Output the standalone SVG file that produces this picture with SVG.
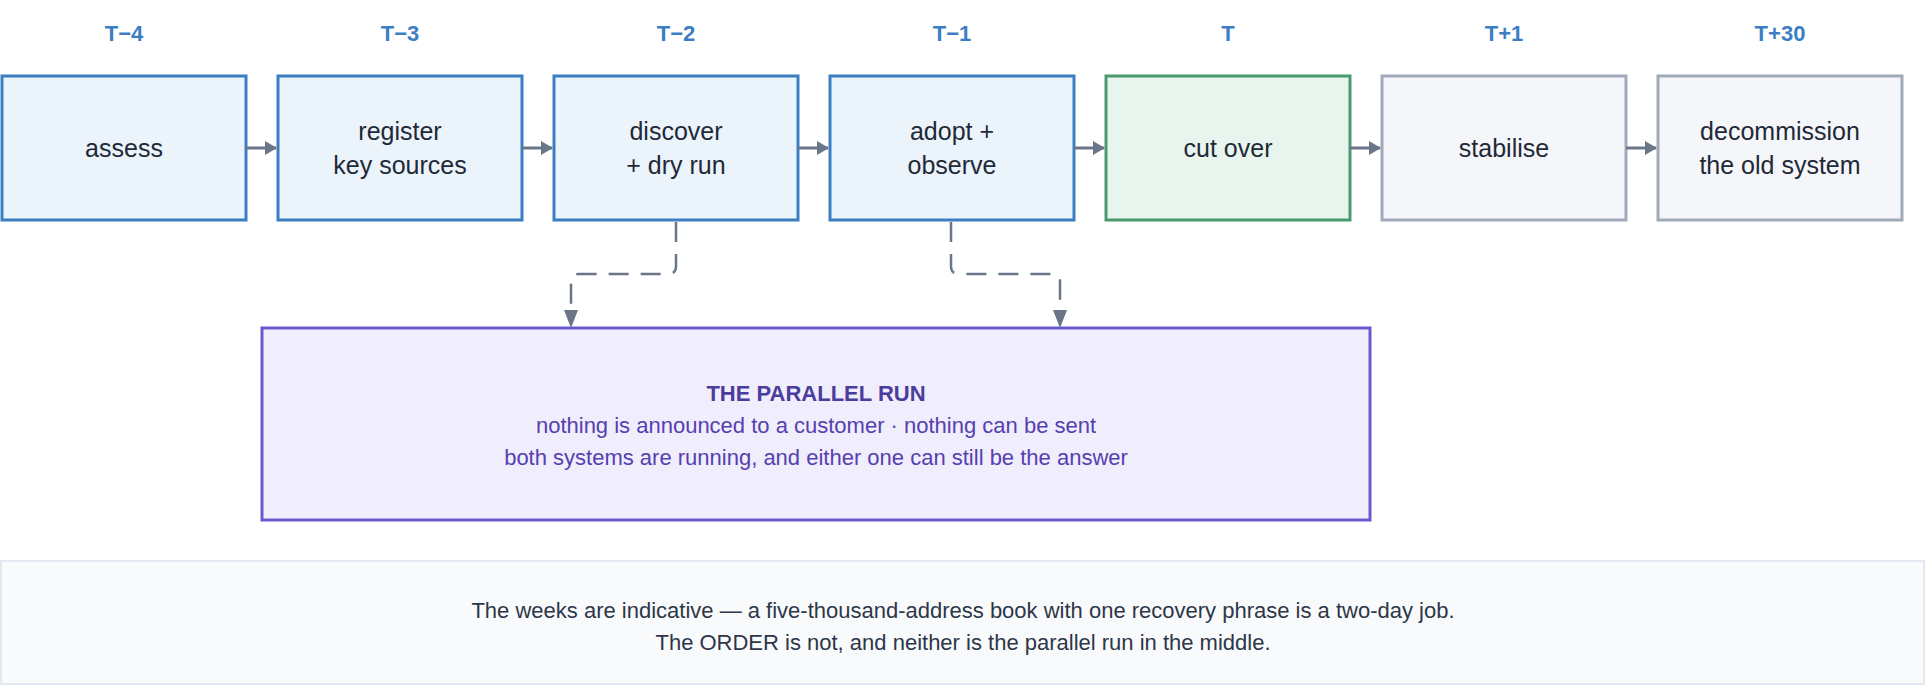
<svg xmlns="http://www.w3.org/2000/svg" width="1926" height="688" viewBox="0 0 1926 688">
<style>
text{font-family:"Liberation Sans",Arial,sans-serif;text-anchor:middle}
.t{font-size:22px;font-weight:bold;fill:#3b7ec4}
.n{font-size:25px;fill:#1f2937}
.blue{fill:#ebf3fb;stroke:#3b7ec4;stroke-width:3}
.green{fill:#e8f5ef;stroke:#4a9a6e;stroke-width:3}
.grey{fill:#f4f6fa;stroke:#a0aabb;stroke-width:3}
.a{stroke:#6b7588;stroke-width:3;fill:none}
.d{stroke:#6b7588;stroke-width:2.5;fill:none;stroke-dasharray:20 12}
.p{font-size:22px;fill:#5540b0}
.f{font-size:22px;fill:#2d3748}
</style>
<defs><marker id="ah" markerWidth="12" markerHeight="14" refX="11" refY="7" orient="auto" markerUnits="userSpaceOnUse"><path d="M0,0L12,7L0,14z" fill="#6b7588"/></marker></defs>
<g id="labels">
<text class="t" x="124" y="41">T−4</text><text class="t" x="400" y="41">T−3</text><text class="t" x="676" y="41">T−2</text><text class="t" x="952" y="41">T−1</text><text class="t" x="1228" y="41">T</text><text class="t" x="1504" y="41">T+1</text><text class="t" x="1780" y="41">T+30</text>
</g>
<g id="n1"><rect class="blue" x="2" y="76" width="244" height="144"/><text class="n" x="124" y="157">assess</text></g>
<g id="n2"><rect class="blue" x="278" y="76" width="244" height="144"/><text class="n" x="400" y="140">register</text><text class="n" x="400" y="174">key sources</text></g>
<g id="n3"><rect class="blue" x="554" y="76" width="244" height="144"/><text class="n" x="676" y="140">discover</text><text class="n" x="676" y="174">+ dry run</text></g>
<g id="n4"><rect class="blue" x="830" y="76" width="244" height="144"/><text class="n" x="952" y="140">adopt +</text><text class="n" x="952" y="174">observe</text></g>
<g id="n5"><rect class="green" x="1106" y="76" width="244" height="144"/><text class="n" x="1228" y="157">cut over</text></g>
<g id="n6"><rect class="grey" x="1382" y="76" width="244" height="144"/><text class="n" x="1504" y="157">stabilise</text></g>
<g id="n7"><rect class="grey" x="1658" y="76" width="244" height="144"/><text class="n" x="1780" y="140">decommission</text><text class="n" x="1780" y="174">the old system</text></g>
<g id="parallel"><rect x="262" y="328" width="1108" height="192" fill="#f0edfc" stroke="#6a5acd" stroke-width="3"/>
<text x="816" y="401" style="font-size:22px;font-weight:bold;fill:#4a3d9c">THE PARALLEL RUN</text>
<text class="p" x="816" y="433">nothing is announced to a customer · nothing can be sent</text>
<text class="p" x="816" y="465">both systems are running, and either one can still be the answer</text></g>
<g id="note"><rect x="1" y="561" width="1923" height="123" fill="#f8fafc" stroke="#e2e8f0" stroke-width="2"/>
<text class="f" x="963" y="618">The weeks are indicative — a five-thousand-address book with one recovery phrase is a two-day job.</text>
<text class="f" x="963" y="650">The ORDER is not, and neither is the parallel run in the middle.</text></g>
<g id="connectors">
<path class="a" d="M246,148H276" marker-end="url(#ah)"/>
<path class="a" d="M522,148H552" marker-end="url(#ah)"/>
<path class="a" d="M798,148H828" marker-end="url(#ah)"/>
<path class="a" d="M1074,148H1104" marker-end="url(#ah)"/>
<path class="a" d="M1350,148H1380" marker-end="url(#ah)"/>
<path class="a" d="M1626,148H1656" marker-end="url(#ah)"/>
<path class="d" d="M676,222V266Q676,274 668,274H579Q571,274 571,282V312"/>
<path d="M564,310L578,310L571,328z" fill="#6b7588"/>
<path class="d" d="M951,222V266Q951,274 959,274H1052Q1060,274 1060,282V312"/>
<path d="M1053,310L1067,310L1060,328z" fill="#6b7588"/>
</g>
</svg>
